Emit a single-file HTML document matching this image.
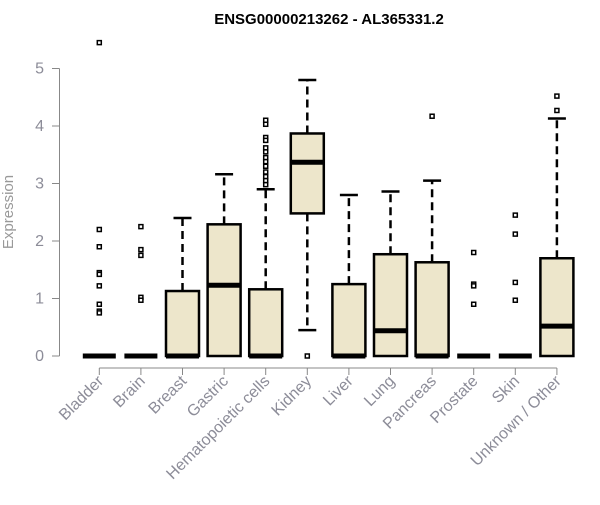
<!DOCTYPE html>
<html><head><meta charset="utf-8"><style>
body{margin:0;background:#fff;font-family:"Liberation Sans",Arial,sans-serif}
</style></head><body>
<svg id="chart" width="600" height="500" xmlns="http://www.w3.org/2000/svg">
<text x="329" y="24" text-anchor="middle" font-size="15" font-weight="bold" fill="#000">ENSG00000213262 - AL365331.2</text>
<text transform="translate(13,212) rotate(-90)" text-anchor="middle" font-size="15" fill="#999">Expression</text>
<g id="axes"></g>
<g id="marks"></g>
</svg>
<script>
const categories=["Bladder","Brain","Breast","Gastric","Hematopoietic cells","Kidney","Liver","Lung","Pancreas","Prostate","Skin","Unknown / Other"];
const q1=[0,0,0,0,0,2.48,0,0,0,0,0,0];
const medians=[0,0,0,1.23,0,3.37,0,0.44,0,0,0,0.52];
const q3=[0,0,1.13,2.29,1.16,3.87,1.25,1.77,1.63,0,0,1.7];
const whiskLo=[0,0,0,0,0,0.45,0,0,0,0,0,0];
const whiskHi=[0,0,2.4,3.16,2.9,4.8,2.8,2.86,3.05,0,0,4.13];
const outliers=[[5.45,2.2,1.9,1.45,1.42,1.22,0.9,0.78,0.75],[2.25,1.85,1.75,1.02,0.97],[],[],[4.1,4.03,3.8,3.75,3.62,3.55,3.45,3.38,3.3,3.2,3.12,3.05,2.98],[0],[],[],[4.17],[1.8,1.25,1.22,0.9],[2.45,2.12,1.28,0.97],[4.52,4.27]];
const yTicks=[0,1,2,3,4,5];
const NS="http://www.w3.org/2000/svg";
const y=v=>356-v*57.5;
const x=i=>99.3+i*41.6;
const bw=33;
function mk(tag,attrs,parent){const e=document.createElementNS(NS,tag);for(const k in attrs)e.setAttribute(k,attrs[k]);parent.appendChild(e);return e;}
const axes=document.getElementById('axes'),marks=document.getElementById('marks');
let a=mk('line',{x1:59.5,x2:59.5,y1:y(0),y2:y(5),stroke:'#888'},axes);


yTicks.forEach(t=>{
 let l=mk('line',{x1:52,x2:59.5,y1:y(t),y2:y(t),stroke:'#888'},axes);
 
 
 let tx=mk('text',{x:44,y:y(t)+5,'text-anchor':'end','font-size':16,fill:'#8c8c98'},axes);
 tx.textContent=t;
 
 
});
let xa=mk('line',{x1:x(0),x2:x(categories.length-1),y1:368,y2:368,stroke:'#888'},axes);


categories.forEach((c,i)=>{
 let l=mk('line',{x1:x(i),x2:x(i),y1:368,y2:375,stroke:'#888'},axes);
 
 
 let t=mk('text',{transform:`translate(${x(i)+5},382) rotate(-45)`,'text-anchor':'end','font-size':16,fill:'#8c8c98'},axes);
 t.textContent=c;
 
 
 const g=mk('g',{},marks);
 
 
 const cx=x(i);
 if(whiskHi[i]>q3[i]){
  mk('line',{x1:cx,x2:cx,y1:y(q3[i]),y2:y(whiskHi[i]),stroke:'#000','stroke-width':2.5,'stroke-dasharray':'8,5'},g);
  mk('line',{x1:cx-9,x2:cx+9,y1:y(whiskHi[i]),y2:y(whiskHi[i]),stroke:'#000','stroke-width':2.5},g);
 }
 if(whiskLo[i]<q1[i]){
  mk('line',{x1:cx,x2:cx,y1:y(q1[i]),y2:y(whiskLo[i]),stroke:'#000','stroke-width':2.5,'stroke-dasharray':'8,5'},g);
  mk('line',{x1:cx-9,x2:cx+9,y1:y(whiskLo[i]),y2:y(whiskLo[i]),stroke:'#000','stroke-width':2.5},g);
 }
 if(q3[i]>q1[i]) mk('rect',{x:cx-bw/2,y:y(q3[i]),width:bw,height:y(q1[i])-y(q3[i]),fill:'#ede6cb',stroke:'#000','stroke-width':2.5},g);
 mk('line',{x1:cx-bw/2,x2:cx+bw/2,y1:y(medians[i]),y2:y(medians[i]),stroke:'#000','stroke-width':5},g);
 outliers[i].forEach(v=>{
  let r=mk('rect',{x:cx-2,y:y(v)-2,width:4,height:4,fill:'#fff',stroke:'#000','stroke-width':1.5},g);
  
  
 });
});
</script>
</body></html>
